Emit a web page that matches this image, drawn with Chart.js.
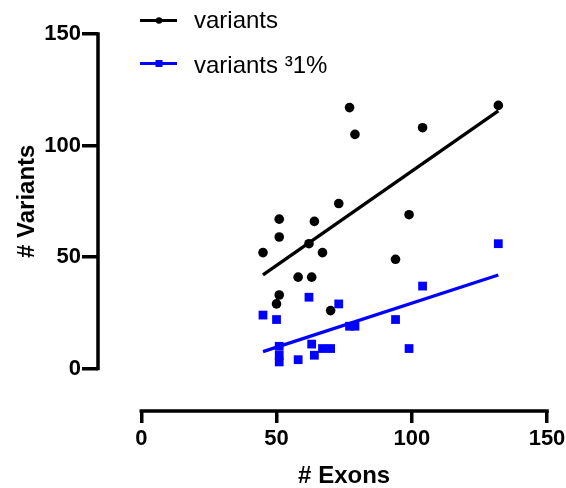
<!DOCTYPE html>
<html>
<head>
<meta charset="utf-8">
<script src="https://cdn.jsdelivr.net/npm/chart.js@4/dist/chart.umd.min.js"></script>
<style>
html,body{margin:0;padding:0;background:#ffffff;}
canvas{display:block;}
</style>
</head>
<body>
<canvas id="c" width="566" height="488"></canvas>
<script>
// ---- data ----
const seriesLabels = ['variants', 'variants \u00B31%'];
const exonsAll = [77, 132, 79, 104, 73, 99, 51, 64, 51, 62, 45, 67, 94, 58, 63, 51, 50, 70];
const variantsAll = [117, 118, 105, 108, 74, 69, 67, 66, 59, 56, 52, 52, 49, 41, 41, 33, 29, 26];
const exonsRare = [132, 104, 62, 73, 45, 50, 94, 77, 79, 63, 67, 70, 99, 64, 58, 51, 51, 51];
const variantsRare = [56, 37, 32, 29, 24, 22, 22, 19, 19, 11, 9, 9, 9, 6, 4, 10, 6, 3];
const xTicks = [0, 50, 100, 150];
const yTicks = [0, 50, 100, 150];
const xTitle = '# Exons';
const yTitle = '# Variants';
const seriesColors = ['#000000', '#0000ff'];

const FONT = "'Liberation Sans', Arial, Helvetica, sans-serif";

function toPoints(xs, ys) { return xs.map((x, i) => ({x: x, y: ys[i]})); }
function fitLine(xs, ys) {
  const n = xs.length;
  const mx = xs.reduce((a, b) => a + b, 0) / n;
  const my = ys.reduce((a, b) => a + b, 0) / n;
  let sxy = 0, sxx = 0;
  for (let i = 0; i < n; i++) { sxy += (xs[i] - mx) * (ys[i] - my); sxx += (xs[i] - mx) ** 2; }
  const b = sxy / sxx, a = my - b * mx;
  const x0 = Math.min(...xs), x1 = Math.max(...xs);
  return [{x: x0, y: a + b * x0}, {x: x1, y: a + b * x1}];
}

const decorations = {
  id: 'decorations',
  afterDraw(chart) {
    const ctx = chart.ctx;
    const xs = chart.scales.x, ys = chart.scales.y;
    const ca = chart.chartArea;
    ctx.save();
    // axis lines spanning only the tick range (offset axes)
    ctx.strokeStyle = '#000';
    ctx.lineWidth = 3.5;
    ctx.lineCap = 'square';
    ctx.beginPath();
    ctx.moveTo(ca.left, ys.getPixelForValue(yTicks[0]));
    ctx.lineTo(ca.left, ys.getPixelForValue(yTicks[yTicks.length - 1]));
    ctx.moveTo(xs.getPixelForValue(xTicks[0]), ca.bottom);
    ctx.lineTo(xs.getPixelForValue(xTicks[xTicks.length - 1]), ca.bottom);
    ctx.stroke();

    // axis titles
    ctx.fillStyle = '#000';
    ctx.font = 'bold 24px ' + FONT;
    ctx.textAlign = 'center';
    ctx.textBaseline = 'alphabetic';
    const xc = (xs.getPixelForValue(xTicks[0]) + xs.getPixelForValue(xTicks[xTicks.length - 1])) / 2;
    ctx.fillText(xTitle, xc, 483);
    const yc = (ys.getPixelForValue(yTicks[0]) + ys.getPixelForValue(yTicks[yTicks.length - 1])) / 2;
    ctx.save();
    ctx.translate(34, yc);
    ctx.rotate(-Math.PI / 2);
    ctx.fillText(yTitle, 0, 0);
    ctx.restore();

    // legend
    const rows = [{lineY: 20.5, textY: 28}, {lineY: 63.5, textY: 73}];
    ctx.font = '24px ' + FONT;
    ctx.textAlign = 'left';
    seriesLabels.forEach((lab, i) => {
      const r = rows[i];
      ctx.strokeStyle = seriesColors[i];
      ctx.fillStyle = seriesColors[i];
      ctx.lineWidth = 3;
      ctx.lineCap = 'butt';
      ctx.beginPath();
      ctx.moveTo(140, r.lineY);
      ctx.lineTo(177, r.lineY);
      ctx.stroke();
      if (i === 0) {
        ctx.beginPath();
        ctx.arc(159, r.lineY, 3.2, 0, Math.PI * 2);
        ctx.fill();
      } else {
        ctx.fillRect(155.5, r.lineY - 3.5, 7, 7);
      }
      ctx.fillStyle = '#000';
      ctx.fillText(lab, 194, r.textY);
    });
    ctx.restore();
  }
};

const tickSetter = (vals) => (scale) => { scale.ticks = vals.map(v => ({value: v})); };

new Chart(document.getElementById('c'), {
  type: 'scatter',
  data: {
    datasets: [
      {
        label: seriesLabels[0],
        data: toPoints(exonsAll, variantsAll),
        pointStyle: 'circle',
        pointRadius: 4.8,
        backgroundColor: seriesColors[0],
        borderWidth: 0
      },
      {
        label: seriesLabels[0] + ' fit',
        data: fitLine(exonsAll, variantsAll),
        showLine: true,
        pointRadius: 0,
        borderColor: seriesColors[0],
        borderWidth: 3.3
      },
      {
        label: seriesLabels[1],
        data: toPoints(exonsRare, variantsRare),
        pointStyle: 'rect',
        pointRadius: 6.2,
        backgroundColor: seriesColors[1],
        borderWidth: 0
      },
      {
        label: seriesLabels[1] + ' fit',
        data: fitLine(exonsRare, variantsRare),
        showLine: true,
        pointRadius: 0,
        borderColor: seriesColors[1],
        borderWidth: 3.3
      }
    ]
  },
  options: {
    responsive: false,
    devicePixelRatio: 1,
    animation: false,
    events: [],
    layout: {padding: {left: 0, top: 34, right: 19, bottom: 0}},
    plugins: {legend: {display: false}, tooltip: {enabled: false}},
    scales: {
      x: {
        type: 'linear',
        min: -16, max: 150,
        afterBuildTicks: tickSetter(xTicks),
        afterFit: (s) => { s.height = 77; s.paddingRight = 0; s.paddingLeft = 0; },
        border: {display: false},
        grid: {drawOnChartArea: false, drawTicks: true, tickLength: 12, lineWidth: 3.5, color: '#000'},
        ticks: {color: '#000', font: {family: FONT, size: 22, weight: 'bold'}, padding: 3, autoSkip: false, maxRotation: 0},
        title: {display: false}
      },
      y: {
        type: 'linear',
        min: -19, max: 150,
        afterBuildTicks: tickSetter(yTicks),
        afterFit: (s) => { s.width = 98; },
        border: {display: false},
        grid: {drawOnChartArea: false, drawTicks: true, tickLength: 16, lineWidth: 3.5, color: '#000'},
        ticks: {color: '#000', font: {family: FONT, size: 22, weight: 'bold'}, padding: 1, autoSkip: false},
        title: {display: false}
      }
    }
  },
  plugins: [decorations]
});
</script>
</body>
</html>
